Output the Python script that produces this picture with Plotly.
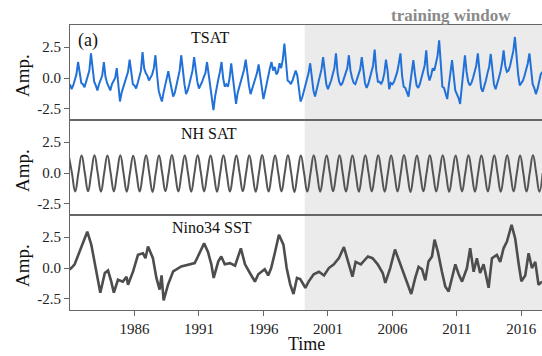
import numpy as np
import plotly.graph_objects as go
from plotly.subplots import make_subplots

# ---------------- data ----------------
panel_titles = ["TSAT", "NH SAT", "Nino34 SST"]
x_ticks = [1986, 1991, 1996, 2001, 2006, 2011, 2016]
y_ticks = [-2.5, 0.0, 2.5]
y_ticktext = ["-2.5", "0.0", "2.5"]
x_range = [1981.0, 2017.6]
training_start = 1999.2

# TSAT: 8 samples per year starting 1981.0
tsat_start = 1981.0
tsat_step = 0.125
tsat = [
    -0.5, -0.9, -0.6, -0.2, 0.3, 1.3, 0.2, -0.4,
    -0.5, -0.75, -0.3, 0.1, 0.6, 2.0, 0.5, -0.3,
    -0.6, -1.0, -0.5, -0.1, 0.2, 1.3, 0.1, -0.4,
    -0.7, -1.0, -0.5, -0.3, 0.0, 0.8, -0.4, -1.9,
    -1.2, -0.8, -0.4, 0.0, 0.5, 1.5, 0.3, -0.5,
    -0.6, -0.85, -0.4, 0.1, 0.6, 2.1, 0.8, 0.4,
    0.2, -0.2, 0.0, 0.3, 0.8, 1.85, 0.3, -1.0,
    -1.5, -1.9, -1.2, -0.6, -0.2, 0.56, -0.2, -0.9,
    -1.5, -1.2, -0.6, 0.0, 0.6, 1.85, 0.4, -0.5,
    -1.3, -1.0, -0.5, 0.0, 0.6, 1.7, 0.5, -0.3,
    -0.85, -0.6, -0.3, 0.1, 0.4, 1.3, 0.2, -0.9,
    -1.6, -2.6, -1.5, -0.7, -0.1, 0.5, 1.3, 0.0,
    -0.7, -0.5, -0.7, 0.0, 1.2, 0.1, -1.2, -2.1,
    -1.2, -0.7, -0.3, 0.2, 0.7, 1.5, 0.3, -0.6,
    -1.3, -0.9, -0.4, 0.0, 0.4, 1.1, 0.0, -0.8,
    -1.7, -1.1, -0.4, 0.2, 0.8, 1.3, 0.6, 0.9,
    0.3, 0.5, 1.2, 0.8, 1.5, 2.8, 1.0, -0.2,
    -0.3, -0.5, -0.2, 0.3, 0.6, 0.2, -0.8, -1.9,
    -1.6, -1.0, -0.6, -0.1, 0.4, 1.2, 0.0, -1.0,
    -1.5, -1.0, -0.4, 0.1, 0.7, 1.7, 0.3, -0.5,
    -0.9, -0.6, -0.2, 0.3, 0.8, 2.0, 0.4, -0.3,
    -0.6, -0.4, 0.0, 0.4, 0.8, 1.85, 0.6, 0.0,
    -0.4, -0.5, -0.1, 0.3, 0.7, 1.7, 0.5, -0.4,
    -0.8, -0.5, 0.0, 0.5, 1.0, 2.3, 0.6, -0.3,
    -0.3, -0.5, -0.2, 0.4, 1.5, 0.6, -0.9, -0.4,
    -0.5, -0.3, 0.1, 0.5, 1.2, 2.0, 0.2, -0.7,
    -0.8, -1.2, -1.5, -0.5, 0.3, 1.45, 0.3, -0.6,
    -0.8, -0.5, 0.0, 0.5, 1.0, 2.25, 0.4, -0.2,
    0.2, 0.8, 0.6, 1.2, 1.8, 3.06, 0.8, -0.7,
    -0.8, -1.2, -1.7, -0.6, 0.4, 1.45, 0.2, -1.0,
    -1.3, -1.6, -2.1, -0.6, 0.5, 1.85, 0.5, -0.3,
    -0.6, -0.4, 0.0, 0.6, 1.0, 2.0, 0.3, -0.8,
    -1.1, -0.7, -0.2, 0.4, 0.9, 1.95, 0.4, -0.5,
    -0.9, -0.5, 0.0, 0.5, 1.2, 2.25, 1.0, 0.5,
    0.6, 1.0, 1.5, 2.2, 3.33, 1.5, 0.3, -0.6,
    -0.4, -0.2, 0.2, 0.7, 1.2, 2.0, 0.5, -0.5,
    -0.8, -1.3, -0.9, -0.3, 0.3, 0.5,
]

# NH SAT: 4 samples per year (peak, falling zero, trough, rising zero) from 1980.9
nh_start = 1980.9
nh_step = 0.25
nh_sat = [
    1.45, 0.02, -1.50, -0.02,  1.42, 0.00, -1.48, 0.01,  1.44, -0.01, -1.52, 0.00,
    1.43, 0.01, -1.49, -0.01,  1.45, 0.00, -1.51, 0.02,  1.41, 0.00, -1.50, 0.00,
    1.44, -0.02, -1.53, 0.01,  1.42, 0.00, -1.47, 0.00,  1.46, 0.01, -1.50, -0.01,
    1.43, 0.00, -1.52, 0.00,  1.44, 0.02, -1.49, 0.00,  1.42, -0.01, -1.51, 0.01,
    1.45, 0.00, -1.50, 0.00,  1.43, 0.01, -1.48, -0.02,  1.44, 0.00, -1.52, 0.00,
    1.46, -0.01, -1.50, 0.01,  1.42, 0.00, -1.49, 0.00,  1.44, 0.02, -1.53, 0.00,
    1.43, 0.00, -1.50, -0.01,  1.45, 0.01, -1.51, 0.00,  1.42, 0.00, -1.48, 0.02,
    1.44, -0.02, -1.50, 0.00,  1.43, 0.00, -1.52, 0.01,  1.45, 0.01, -1.49, 0.00,
    1.44, 0.00, -1.51, -0.01,  1.42, 0.00, -1.50, 0.00,  1.46, 0.02, -1.53, 0.00,
    1.43, -0.01, -1.48, 0.01,  1.44, 0.00, -1.50, 0.00,  1.45, 0.01, -1.52, -0.02,
    1.42, 0.00, -1.49, 0.00,  1.44, 0.00, -1.51, 0.01,  1.43, 0.02, -1.50, 0.00,
    1.45, 0.00, -1.52, 0.00,  1.44, -0.01, -1.49, 0.00,  1.43, 0.00, -1.50, 0.01,
    1.44, 0.01, -1.51, 0.00,
]

# Nino34 SST: (time, value) readings
nino_time = [
    1980.85, 1981.1, 1981.36, 1981.75, 1982.34, 1982.65, 1982.9, 1983.17, 1983.35,
    1983.7, 1983.95, 1984.2, 1984.4, 1984.72, 1985.1, 1985.38, 1985.5, 1985.9,
    1986.27, 1986.66, 1986.85, 1987.05, 1987.43, 1987.7, 1987.95, 1988.1, 1988.26,
    1988.6, 1989.0, 1989.63, 1990.15, 1990.67, 1990.9, 1991.4, 1991.7, 1991.96,
    1992.14, 1992.5, 1992.73, 1993.0, 1993.4, 1993.8, 1994.25, 1994.57, 1994.95,
    1995.34, 1995.6, 1996.1, 1996.37, 1996.6, 1996.9, 1997.2, 1997.55, 1997.8,
    1998.07, 1998.33, 1998.6, 1998.85, 1999.25, 1999.5, 1999.9, 2000.3, 2000.7,
    2001.07, 2001.46, 2001.85, 2002.24, 2002.64, 2002.9, 2003.15, 2003.55, 2004.1,
    2004.46, 2004.86, 2005.25, 2005.45, 2005.83, 2006.2, 2006.6, 2006.85, 2007.25,
    2007.46, 2007.77, 2008.03, 2008.3, 2008.55, 2008.8, 2009.07, 2009.27, 2009.53,
    2009.84, 2010.1, 2010.36, 2010.6, 2010.88, 2011.14, 2011.4, 2011.78, 2012.03,
    2012.3, 2012.55, 2012.8, 2013.07, 2013.46, 2013.72, 2014.1, 2014.36, 2014.62,
    2014.88, 2015.24, 2015.52, 2015.8, 2016.0, 2016.3, 2016.56, 2016.82, 2017.08,
    2017.33, 2017.6,
]
nino_val = [
    -0.2, 0.0, 0.3, 1.3, 2.95, 1.9, 0.6, -0.8, -2.0,
    -0.4, -0.2, -1.1, -2.0, -0.95, -1.1, -0.7, -1.35, -0.25,
    1.07, 1.2, 0.8, 1.75, 0.8, -0.8, -1.75, -0.6, -2.63,
    -1.35, -0.27, 0.13, 0.27, 0.4, 0.9, 2.0, 1.3, 0.3,
    -0.8, 0.54, 0.94, 0.3, 0.4, 0.2, 1.6, 0.3, -0.4,
    -1.1, -0.5, -0.1, -0.6, 0.0, 1.3, 2.7, 1.9, 0.0,
    -1.3, -2.1, -0.8, -0.9, -1.6, -1.1, -0.5, -0.3, -0.6,
    0.0, 0.3, 0.8, 1.7, 0.3, -0.7, 0.5, 0.3, 0.94,
    0.8, 0.3, -0.4, -1.2, 0.0, 1.5, 0.3, -0.4, -1.5,
    -2.1, -0.8, 0.1, -0.1, -1.0, 0.54, 0.94, 2.3, 1.3,
    -0.3, -1.5, -1.9, -0.8, 0.3, -0.5, -1.1, 0.0, 1.6,
    -0.3, 0.8, -0.4, 0.3, -1.6, 0.8, 1.07, 0.5, 1.6,
    2.15, 3.5, 2.4, 0.27, -1.07, -0.6, 1.2, 0.0, 0.5,
    -1.35, -1.1,
]

# ---------------- figure ----------------
tsat_time = tsat_start + tsat_step * np.arange(len(tsat))
nh_time = nh_start + nh_step * np.arange(len(nh_sat))

FONT = "Liberation Serif, Times New Roman, serif"
AXC = "#666666"

fig = make_subplots(rows=3, cols=1, shared_xaxes=True, vertical_spacing=0)

fig.add_trace(go.Scatter(x=tsat_time, y=tsat, mode="lines",
                         line=dict(color="#2271d8", width=2.0)), row=1, col=1)
fig.add_trace(go.Scatter(x=nh_time, y=nh_sat, mode="lines",
                         line=dict(color="#555555", width=2.0, shape="spline", smoothing=1.3)),
              row=2, col=1)
fig.add_trace(go.Scatter(x=nino_time, y=nino_val, mode="lines",
                         line=dict(color="#4d4d4d", width=2.6)), row=3, col=1)

# training window shading
fig.add_shape(type="rect", xref="x", yref="paper", x0=training_start, x1=x_range[1] + 1,
              y0=0, y1=1, fillcolor="#ebebeb", line=dict(width=0), layer="below")

for r in (1, 2, 3):
    fig.update_xaxes(row=r, col=1, range=x_range, showgrid=False, zeroline=False,
                     showline=True, linecolor=AXC, linewidth=1, mirror=True,
                     tickvals=x_ticks, ticktext=[str(t) for t in x_ticks],
                     ticks="outside" if r == 3 else "", ticklen=5, tickcolor=AXC,
                     showticklabels=(r == 3),
                     tickfont=dict(family=FONT, size=15, color="#222"))
    fig.update_yaxes(row=r, col=1, range=[-3.4, 4.3], showgrid=False, zeroline=False,
                     showline=True, linecolor=AXC, linewidth=1.2,
                     tickvals=y_ticks, ticktext=y_ticktext, ticks="outside",
                     ticklen=5, tickcolor=AXC,
                     tickfont=dict(family=FONT, size=15, color="#222"))

H = 285.0
def py(ypix):
    return (310 - ypix) / H

def px(xpix):
    return (xpix - 70) / 472.0

ann = []
for yc in (76, 171, 266):
    ann.append(dict(text="Amp.", x=px(22), y=py(yc), xref="paper", yref="paper",
                    textangle=-90, showarrow=False, xanchor="center", yanchor="middle",
                    font=dict(family=FONT, size=19, color="#111")))
for t, xc, yc in zip(panel_titles, (210, 209, 212), (37, 133, 227)):
    ann.append(dict(text=t, x=px(xc), y=py(yc), xref="paper", yref="paper",
                    showarrow=False, xanchor="center", yanchor="middle",
                    font=dict(family=FONT, size=16, color="#111")))
ann.append(dict(text="(a)", x=px(88), y=py(40), xref="paper", yref="paper",
                showarrow=False, xanchor="center", yanchor="middle",
                font=dict(family=FONT, size=18, color="#111")))
ann.append(dict(text="<b>training window</b>", x=px(451), y=py(16), xref="paper", yref="paper",
                showarrow=False, xanchor="center", yanchor="middle",
                font=dict(family=FONT, size=17, color="#8a8a8a")))
ann.append(dict(text="Time", x=px(306), y=py(344), xref="paper", yref="paper",
                showarrow=False, xanchor="center", yanchor="middle",
                font=dict(family=FONT, size=18, color="#111")))

fig.update_layout(width=542, height=356, margin=dict(l=70, r=0, t=25, b=46),
                  paper_bgcolor="white", plot_bgcolor="rgba(0,0,0,0)",
                  showlegend=False, annotations=ann)

fig.write_html("out.html")
